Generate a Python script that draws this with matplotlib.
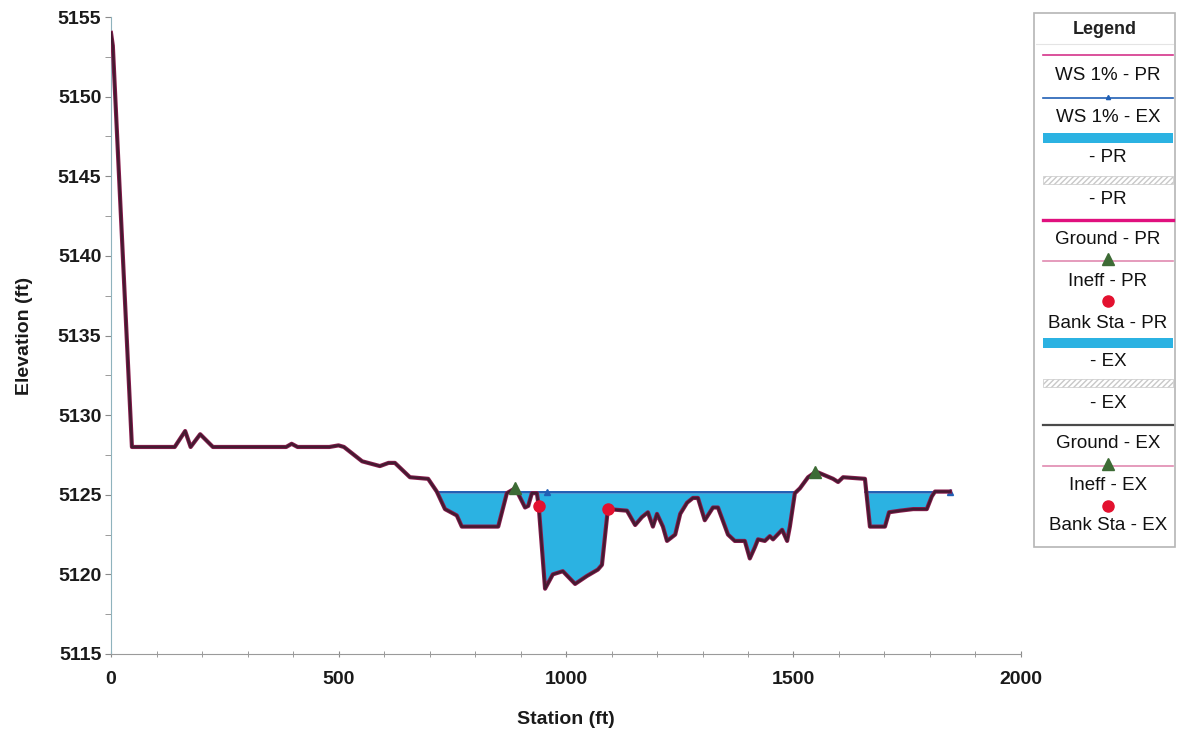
import matplotlib
matplotlib.use("Agg")
import numpy as np
import matplotlib.pyplot as plt
from matplotlib.patches import Rectangle
from matplotlib.ticker import MultipleLocator

plt.rcParams['font.family'] = ['Liberation Sans', 'DejaVu Sans']

# ground profile (station ft, elevation ft)
ground_sta = [0, 4, 46, 140, 163, 175, 196, 224, 385, 397, 410, 480, 500, 512,
              552, 591, 610, 624, 657, 697, 716, 734, 760, 771, 851, 870, 888,
              896, 910, 917, 925, 936, 940, 954, 971, 993, 1020, 1046, 1070,
              1079, 1092, 1134, 1152, 1167, 1180, 1191, 1200, 1213, 1222, 1240,
              1251, 1266, 1279, 1290, 1305, 1323, 1334, 1356, 1371, 1393, 1404,
              1415, 1422, 1437, 1448, 1455, 1475, 1486, 1492, 1503, 1514, 1532,
              1547, 1554, 1587, 1598, 1609, 1657, 1668, 1701, 1710, 1734, 1763,
              1793, 1804, 1811, 1844]
ground_elev = [5154.0, 5153.2, 5128.0, 5128.0, 5129.0, 5128.0, 5128.8, 5128.0,
               5128.0, 5128.2, 5128.0, 5128.0, 5128.1, 5128.0, 5127.1, 5126.8,
               5127.0, 5127.0, 5126.1, 5126.0, 5125.2, 5124.1, 5123.7, 5123.0,
               5123.0, 5125.1, 5125.4, 5125.0, 5124.2, 5124.3, 5125.1, 5125.1,
               5124.3, 5119.1, 5120.0, 5120.2, 5119.4, 5119.9, 5120.3, 5120.6,
               5124.1, 5124.0, 5123.1, 5123.6, 5123.9, 5123.0, 5123.8, 5123.0,
               5122.1, 5122.5, 5123.8, 5124.5, 5124.8, 5124.8, 5123.4, 5124.2,
               5124.2, 5122.5, 5122.1, 5122.1, 5121.0, 5121.7, 5122.2, 5122.1,
               5122.4, 5122.2, 5122.8, 5122.1, 5123.0, 5125.1, 5125.4, 5126.1,
               5126.4, 5126.4, 5126.0, 5125.8, 5126.1, 5126.0, 5123.0, 5123.0,
               5123.9, 5124.0, 5124.1, 5124.1, 5124.9, 5125.2, 5125.2]

# water surface 1% and its wetted extents
ws_elev = 5125.2
ws_extents = [(716, 1507), (1657, 1844)]
ws_marker_sta = [958, 1844]

ineff_sta = [888, 1547]
ineff_elev = [5125.4, 5126.4]
bank_sta = [940, 1092]
bank_elev = [5124.3, 5124.1]

W, H = 1178, 729
fig = plt.figure(figsize=(W / 100, H / 100), dpi=100)
ax = fig.add_axes([111 / W, 1 - 654 / H, (1021 - 111) / W, (654 - 17) / H])

water = '#2bb2e2'
for s0, s1 in ws_extents:
    xs = [s0] + [s for s in ground_sta if s0 < s < s1] + [s1]
    gz = np.interp(xs, ground_sta, ground_elev)
    ax.fill_between(xs, gz, ws_elev, where=gz <= ws_elev + 0.01,
                    interpolate=True, color=water, lw=0, zorder=1)
    ax.plot([s0, s1], [ws_elev, ws_elev], color='#d4338a', lw=1.0, zorder=2)
    ax.plot([s0, s1], [ws_elev, ws_elev], color='#2160b5', lw=1.4, zorder=2)

ax.plot(ws_marker_sta, [ws_elev] * len(ws_marker_sta), ls='none', marker='^',
        ms=4, color='#2160b5', zorder=3)

ax.plot(ground_sta, ground_elev, color='#8a1d4e', lw=3.0, zorder=3,
        solid_joinstyle='round')
ax.plot(ground_sta, ground_elev, color='#2e1a28', lw=1.8, alpha=0.75, zorder=4,
        solid_joinstyle='round')

ax.plot(ineff_sta, ineff_elev, ls='none', marker='^', ms=8, color='#3d6b35',
        zorder=5)
ax.plot(bank_sta, bank_elev, ls='none', marker='o', ms=8, color='#e3112f',
        zorder=5)

ax.set_xlim(0, 2000)
ax.set_ylim(5115, 5155)
ax.xaxis.set_major_locator(MultipleLocator(500))
ax.xaxis.set_minor_locator(MultipleLocator(100))
ax.yaxis.set_major_locator(MultipleLocator(5))
ax.yaxis.set_minor_locator(MultipleLocator(2.5))

for side in ('top', 'right'):
    ax.spines[side].set_visible(False)
ax.spines['left'].set_color('#8fb3bd')
ax.spines['bottom'].set_color('#9a9a9a')
ax.tick_params(which='both', colors='#8a8a8a', labelcolor='#1a1a1a',
               labelsize=14)
ax.tick_params(axis='x', which='both', direction='inout', length=5, pad=10)
ax.tick_params(axis='y', which='both', direction='out', length=4, pad=3)
for lab in ax.get_xticklabels() + ax.get_yticklabels():
    lab.set_fontweight('bold')

ax.set_xlabel('Station (ft)', fontsize=14, fontweight='bold', color='#1a1a1a',
              labelpad=16)
ax.set_ylabel('Elevation (ft)', fontsize=14, fontweight='bold',
              color='#1a1a1a', labelpad=18)

# legend panel drawn by hand
lg = fig.add_axes([1033 / W, 1 - 548 / H, 143 / W, 536 / H])
lg.set_xlim(1033, 1176)
lg.set_ylim(548, 12)
lg.axis('off')
lg.add_patch(Rectangle((1034, 13), 141, 534, fill=False, ec='#b5b5b5', lw=1.2))
lg.text(1104.5, 30, 'Legend', ha='center', va='center', fontsize=13,
        fontweight='bold', color='#222222')
lg.plot([1036, 1173], [44, 44], color='#e4e4e4', lw=0.8)

x0, x1 = 1043, 1173
xm = (x0 + x1) / 2
txt = dict(ha='center', va='center', fontsize=13.5, color='#111111')

lg.plot([x0, x1], [55, 55], color='#d4338a', lw=1.2)
lg.text(xm, 75, 'WS 1% - PR', **txt)
lg.plot([x0, x1], [98, 98], color='#2160b5', lw=1.2)
lg.plot([xm], [97], marker='^', ms=3, color='#2160b5')
lg.text(xm, 117, 'WS 1% - EX', **txt)
lg.add_patch(Rectangle((x0, 133), x1 - x0, 10, color=water, lw=0))
lg.text(xm, 157, '- PR', **txt)
lg.add_patch(Rectangle((x0, 176), x1 - x0, 8, fc='white', ec='#c8c8c8',
                       hatch='//////', lw=0.5))
lg.text(xm, 199, '- PR', **txt)
lg.plot([x0, x1], [220, 220], color='#e0107e', lw=2.4)
lg.text(xm, 240, 'Ground - PR', **txt)
lg.plot([x0, x1], [261, 261], color='#e08ab0', lw=1.2)
lg.plot([xm], [259], marker='^', ms=8, color='#3d6b35')
lg.text(xm, 281, 'Ineff - PR', **txt)
lg.plot([xm], [301], marker='o', ms=8, color='#e3112f')
lg.text(xm, 323, 'Bank Sta - PR', **txt)
lg.add_patch(Rectangle((x0, 338), x1 - x0, 10, color=water, lw=0))
lg.text(xm, 362, '- EX', **txt)
lg.add_patch(Rectangle((x0, 379), x1 - x0, 8, fc='white', ec='#c8c8c8',
                       hatch='//////', lw=0.5))
lg.text(xm, 403, '- EX', **txt)
lg.plot([x0, x1], [425, 425], color='#4a4a4a', lw=1.6)
lg.text(xm, 444, 'Ground - EX', **txt)
lg.plot([x0, x1], [466, 466], color='#e08ab0', lw=1.2)
lg.plot([xm], [464], marker='^', ms=8, color='#3d6b35')
lg.text(xm, 485, 'Ineff - EX', **txt)
lg.plot([xm], [506], marker='o', ms=8, color='#e3112f')
lg.text(xm, 525, 'Bank Sta - EX', **txt)

fig.savefig('out.png', dpi=100)
